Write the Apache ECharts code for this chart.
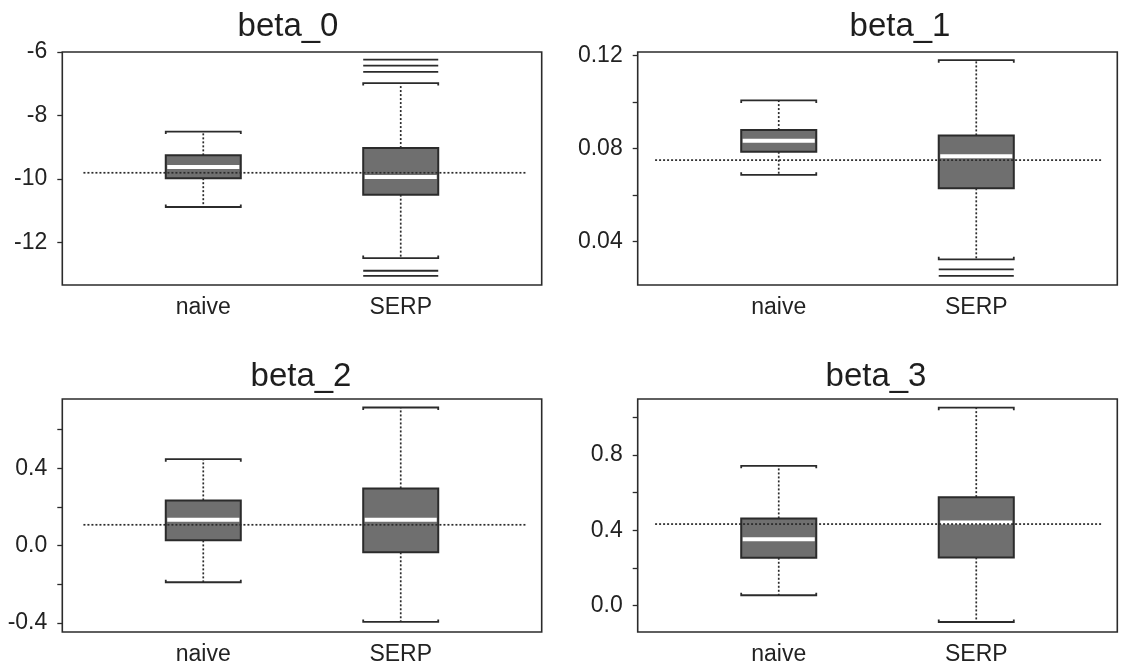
<!DOCTYPE html>
<html><head><meta charset="utf-8">
<script src="https://cdn.jsdelivr.net/npm/echarts@6/dist/echarts.min.js"></script>
<style>html,body{margin:0;padding:0;background:#fff}#c{width:1121px;height:670px}</style>
</head><body><div id="c"></div>
<script>
// ---------------- data ----------------
const categories = ['naive', 'SERP'];
const titles = ['beta_0', 'beta_1', 'beta_2', 'beta_3'];
// box stats: [lower whisker, Q1, median, Q3, upper whisker]
const beta0Naive = [-10.89, -9.98, -9.63, -9.26, -8.51];
const beta0Serp  = [-12.50, -10.50, -9.94, -9.03, -6.98];
const beta0SerpOutliers = [-6.24, -6.43, -6.63, -12.90, -13.06];
const beta0Ref = -9.81;

const beta1Naive = [0.0687, 0.0786, 0.0833, 0.0879, 0.1006];
const beta1Serp  = [0.0324, 0.0629, 0.0767, 0.0856, 0.1179];
const beta1SerpOutliers = [0.0281, 0.0253];
const beta1Ref = 0.075;

const beta2Naive = [-0.189, 0.0275, 0.134, 0.234, 0.447];
const beta2Serp  = [-0.394, -0.034, 0.134, 0.296, 0.714];
const beta2SerpOutliers = [];
const beta2Ref = 0.108;

const beta3Naive = [0.055, 0.254, 0.353, 0.463, 0.742];
const beta3Serp  = [-0.087, 0.256, 0.442, 0.576, 1.051];
const beta3SerpOutliers = [];
const beta3Ref = 0.433;

// y axis ranges, ticks and tick labels
const yRanges = [[-13.35, -6], [0.0214, 0.1214], [-0.446, 0.758], [-0.14, 1.097]];
const yTicks = [[-12, -10, -8, -6], [0.04, 0.06, 0.08, 0.10, 0.12], [-0.4, -0.2, 0, 0.2, 0.4, 0.6], [0, 0.2, 0.4, 0.6, 0.8, 1.0]];
const yTickLabels = [[-12, -10, -8, -6], [0.04, 0.08, 0.12], [-0.4, 0, 0.4], [0, 0.4, 0.8]];
const yDecimals = [0, 2, 1, 1];

// ---------------- layout / style ----------------
const panels = [
  {naive: beta0Naive, serp: beta0Serp, out: beta0SerpOutliers, ref: beta0Ref},
  {naive: beta1Naive, serp: beta1Serp, out: beta1SerpOutliers, ref: beta1Ref},
  {naive: beta2Naive, serp: beta2Serp, out: beta2SerpOutliers, ref: beta2Ref},
  {naive: beta3Naive, serp: beta3Serp, out: beta3SerpOutliers, ref: beta3Ref}
];
const layouts = [
  {left: 62.3, top: 52, width: 479.4, height: 233, tx: 288, ty: 26.5, refX: [0.393, 2.634]},
  {left: 637.7, top: 52, width: 479.6, height: 233, tx: 900, ty: 26.5, refX: [0.374, 2.64]},
  {left: 62.3, top: 399, width: 479.4, height: 233, tx: 301, ty: 376.5, refX: [0.393, 2.634]},
  {left: 637.7, top: 399, width: 479.6, height: 233, tx: 876, ty: 376.5, refX: [0.374, 2.64]}
];
const X_MIN = 0.286, X_MAX = 2.714, BOX_W = 0.38;
const DARK = '#2b2b2b', FILL = '#6f6f6f';
const FONT = '"Liberation Sans", Arial, Helvetica, sans-serif';

function renderBox(params, api) {
  const x = api.value(0);
  const half = api.size([BOX_W, 0])[0] / 2;
  const pLo = api.coord([x, api.value(1)]);
  const pQ1 = api.coord([x, api.value(2)]);
  const pMed = api.coord([x, api.value(3)]);
  const pQ3 = api.coord([x, api.value(4)]);
  const pHi = api.coord([x, api.value(5)]);
  const cx = pMed[0];
  const dotted = {stroke: DARK, lineWidth: 1.7, lineDash: [2, 2]};
  const solid = {stroke: DARK, lineWidth: 1.8};
  const hook = 2.5;
  return {
    type: 'group',
    children: [
      {type: 'line', shape: {x1: cx, y1: pQ3[1], x2: cx, y2: pHi[1]}, style: dotted},
      {type: 'line', shape: {x1: cx, y1: pQ1[1], x2: cx, y2: pLo[1]}, style: dotted},
      {type: 'polyline', shape: {points: [[cx - half, pHi[1] + hook], [cx - half, pHi[1]], [cx + half, pHi[1]], [cx + half, pHi[1] + hook]]}, style: Object.assign({fill: null}, solid)},
      {type: 'polyline', shape: {points: [[cx - half, pLo[1] - hook], [cx - half, pLo[1]], [cx + half, pLo[1]], [cx + half, pLo[1] - hook]]}, style: Object.assign({fill: null}, solid)},
      {type: 'rect', shape: {x: cx - half, y: pQ3[1], width: 2 * half, height: pQ1[1] - pQ3[1]}, style: {fill: FILL, stroke: DARK, lineWidth: 2}},
      {type: 'line', shape: {x1: cx - half + 1.5, y1: pMed[1], x2: cx + half - 1.5, y2: pMed[1]}, style: {stroke: '#ffffff', lineWidth: 4}}
    ]
  };
}
function renderOutlier(params, api) {
  const p = api.coord([api.value(0), api.value(1)]);
  const half = api.size([BOX_W, 0])[0] / 2;
  return {type: 'line', shape: {x1: p[0] - half, y1: p[1], x2: p[0] + half, y2: p[1]}, style: {stroke: DARK, lineWidth: 1.8}};
}

const grid = [], xAxis = [], yAxis = [], series = [], graphic = [];
panels.forEach((pn, i) => {
  const L = layouts[i];
  grid.push({left: L.left, top: L.top, width: L.width, height: L.height, show: true, borderColor: DARK, borderWidth: 1.6, backgroundColor: 'transparent'});
  xAxis.push({
    gridIndex: i, type: 'value', min: X_MIN, max: X_MAX,
    axisLine: {show: false, onZero: false}, axisTick: {show: false}, splitLine: {show: false},
    axisLabel: {customValues: [1, 2], formatter: v => categories[Math.round(v) - 1], fontSize: 23, color: '#222', fontFamily: FONT, margin: 11}
  });
  yAxis.push({
    gridIndex: i, type: 'value', min: yRanges[i][0], max: yRanges[i][1],
    axisLine: {show: false, onZero: false}, splitLine: {show: false},
    axisTick: {show: true, inside: false, length: 5, customValues: yTicks[i], lineStyle: {color: DARK, width: 1.3}},
    axisLabel: {customValues: yTickLabels[i], formatter: v => Number(v).toFixed(yDecimals[i]), fontSize: 23, color: '#222', fontFamily: FONT, margin: 15}
  });
  series.push({
    type: 'line', xAxisIndex: i, yAxisIndex: i, symbol: 'none', silent: true, z: 3,
    data: [[L.refX[0], pn.ref], [L.refX[1], pn.ref]],
    lineStyle: {color: DARK, width: 1.7, type: [2, 2]}
  });
  series.push({
    type: 'custom', xAxisIndex: i, yAxisIndex: i, renderItem: renderBox, z: 2,
    encode: {x: 0, y: [1, 2, 3, 4, 5]},
    data: [[1].concat(pn.naive), [2].concat(pn.serp)]
  });
  series.push({
    type: 'custom', xAxisIndex: i, yAxisIndex: i, renderItem: renderOutlier, z: 2,
    encode: {x: 0, y: 1},
    data: pn.out.map(v => [2, v])
  });
  graphic.push({type: 'text', x: L.tx, y: L.ty, style: {text: titles[i], font: '33px ' + FONT, fill: '#1e1e1e', align: 'center', verticalAlign: 'middle'}});
});

const chart = echarts.init(document.getElementById('c'), null, {renderer: 'canvas'});
chart.setOption({animation: false, backgroundColor: '#fff', grid, xAxis, yAxis, series, graphic});
</script>
</body></html>
